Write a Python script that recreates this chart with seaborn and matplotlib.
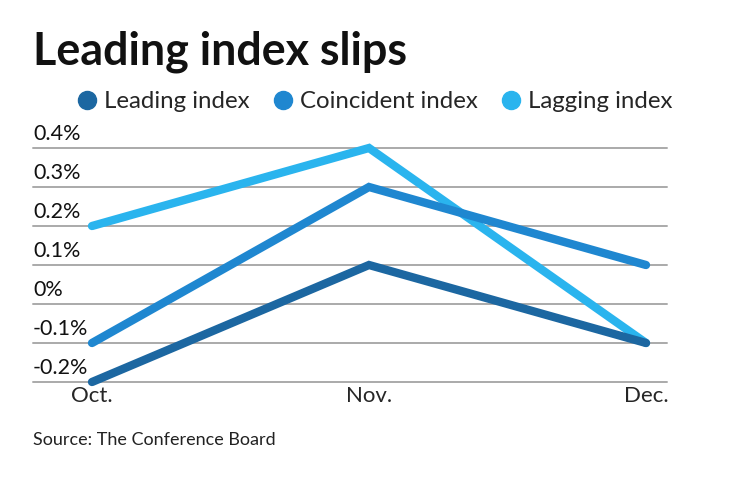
import pandas as pd
import seaborn as sns
import matplotlib.pyplot as plt
from matplotlib.lines import Line2D
from matplotlib.transforms import blended_transform_factory, offset_copy

# Chart data
months = ["Oct.", "Nov.", "Dec."]
leading = [-0.2, 0.1, -0.1]
coincident = [-0.1, 0.3, 0.1]
lagging = [0.2, 0.4, -0.1]
series_names = ["Leading index", "Coincident index", "Lagging index"]
y_ticks = [-0.2, -0.1, 0.0, 0.1, 0.2, 0.3, 0.4]
y_labels = ["-0.2%", "-0.1%", "0%", "0.1%", "0.2%", "0.3%", "0.4%"]

colors = {"Leading index": "#1c67a1", "Coincident index": "#1f87d0", "Lagging index": "#2ab4ee"}

rows = []
for name, vals in zip(series_names, [leading, coincident, lagging]):
    for i, (m, v) in enumerate(zip(months, vals)):
        rows.append({"month": m, "pos": i, "value": v, "series": name})
df = pd.DataFrame(rows)

sns.set_style("white")
plt.rcParams["font.family"] = ["Lato", "DejaVu Sans"]

fig = plt.figure(figsize=(7.4, 4.82), dpi=100)
ax = fig.add_axes([33 / 740, 1 - 382 / 482, 634 / 740, 234 / 482])

# gridlines
for t in y_ticks:
    ax.axhline(t, color="#aaaaaa", lw=1.4, zorder=1)

# draw lagging first so leading sits on top
sns.lineplot(data=df, x="pos", y="value", hue="series", palette=colors,
             hue_order=["Lagging index", "Coincident index", "Leading index"],
             lw=6, legend=False, ax=ax, zorder=3)
for line in ax.lines:
    line.set_solid_capstyle("round")
    line.set_solid_joinstyle("miter")
    line.set_clip_on(False)

ax.set_xlim(-(92 - 33) / 277, 2 + (667 - 646) / 277)
ax.set_ylim(-0.2, 0.4)
sns.despine(ax=ax, left=True, bottom=True, top=True, right=True)
ax.set_xlabel("")
ax.set_ylabel("")
ax.set_yticks([])
ax.set_xticks(range(len(months)))
ax.set_xticklabels(months, fontsize=16)
ax.tick_params(axis="x", length=0, pad=3)

# y labels sit above each gridline
trans = offset_copy(blended_transform_factory(ax.transAxes, ax.transData),
                    fig=fig, x=0, y=3, units="points")
for t, lab in zip(y_ticks, y_labels):
    ax.text(0, t, lab, transform=trans, ha="left", va="bottom", fontsize=15.5, color="#111111")

fig.text(33 / 740, 1 - 52 / 482, "Leading index slips", fontsize=32.3, fontweight="bold",
         ha="left", va="center", color="#111111")

handles = [Line2D([], [], marker="o", ls="", markersize=13, color=colors[n]) for n in series_names]
fig.legend(handles, series_names, loc="center left", bbox_to_anchor=(63 / 740, 1 - 102 / 482),
           ncol=3, frameon=False, fontsize=17.3, handletextpad=0.1, columnspacing=0.8,
           handlelength=1.2, borderaxespad=0)

fig.text(33 / 740, 1 - 440 / 482, "Source: The Conference Board", fontsize=13,
         ha="left", va="center", color="#222222")

fig.savefig("out.png", dpi=100)
